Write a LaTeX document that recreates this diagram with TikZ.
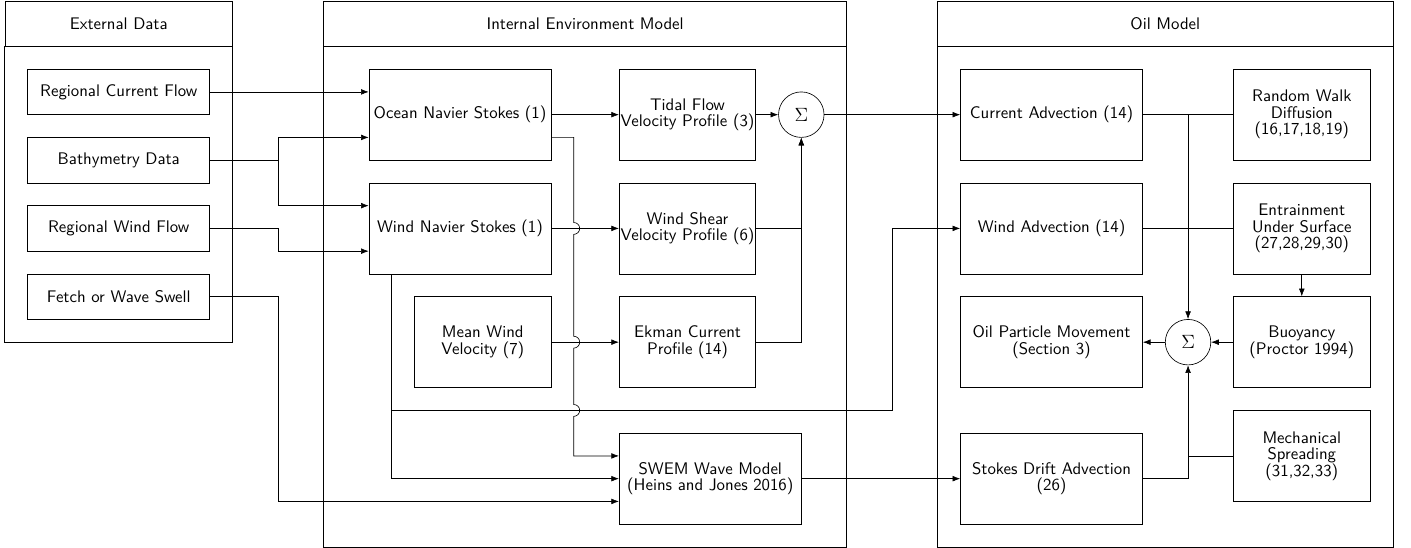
\documentclass[tikz,border=0pt]{standalone}
\usetikzlibrary{arrows.meta}
\renewcommand{\familydefault}{\sfdefault}

\begin{document}
\begin{tikzpicture}[
  >=Latex,
  font=\fontsize{10.5}{10.3}\selectfont,
  blk/.style={draw, minimum width=4cm, minimum height=2cm, align=center, inner xsep=0pt},
  sblk/.style={blk, minimum width=3cm},
  src/.style={blk, minimum height=1cm},
  hdr/.style={draw, minimum height=1cm},
  sumnode/.style={draw, circle, minimum size=1cm, inner sep=0pt, font=\large}
]
\useasboundingbox (-0.11,0.02) rectangle (30.9,-12.02);

% Frames
\node[hdr, minimum width=5cm] (exthdr) at (2.5,-0.5) {External Data};
\draw (exthdr.south west) rectangle (5,-7.5);
\node[hdr, minimum width=11.5cm] (inthdr) at (12.75,-0.5) {Internal Environment Model};
\draw (inthdr.south west) rectangle (18.5,-12);
\node[hdr, minimum width=10cm] (oilhdr) at (25.5,-0.5) {Oil Model};
\draw (oilhdr.south west) rectangle (30.5,-12);

% External data
\node[src] (rcf) at (2.5,-2) {Regional Current Flow};
\node[src] (bath) at (2.5,-3.5) {Bathymetry Data};
\node[src] (rwf) at (2.5,-5) {Regional Wind Flow};
\node[src] (fetch) at (2.5,-6.5) {Fetch or Wave Swell};

% Internal environment
\node[blk] (ons) at (10,-2.5) {Ocean Navier Stokes (1)};
\node[blk] (wns) at (10,-5) {Wind Navier Stokes (1)};
\node[sblk] (mwind) at (10.5,-7.5) {Mean Wind\\Velocity (7)};
\node[sblk] (tidal) at (15,-2.5) {Tidal Flow\\Velocity Profile (3)};
\node[sblk] (wshear) at (15,-5) {Wind Shear\\Velocity Profile (6)};
\node[sblk] (ekman) at (15,-7.5) {Ekman Current\\Profile (14)};
\node[blk] (swem) at (15.5,-10.5) {SWEM Wave Model\\(Heins and Jones 2016)};
\node[sumnode] (sum1) at (17.5,-2.5) {$\Sigma$};

% Oil model
\node[blk] (cadv) at (23,-2.5) {Current Advection (14)};
\node[blk] (wadv) at (23,-5) {Wind Advection (14)};
\node[blk] (oil) at (23,-7.5) {Oil Particle Movement\\(Section 3)};
\node[blk] (stokes) at (23,-10.5) {Stokes Drift Advection\\(26)};
\node[sblk] (rwalk) at (28.5,-2.5) {Random Walk\\Diffusion\\(16,17,18,19)};
\node[sblk] (entr) at (28.5,-5) {Entrainment\\Under Surface\\(27,28,29,30)};
\node[sblk] (buoy) at (28.5,-7.5) {Buoyancy\\(Proctor 1994)};
\node[sblk] (mech) at (28.5,-10) {Mechanical\\Spreading\\(31,32,33)};
\node[sumnode] (sum2) at (26,-7.5) {$\Sigma$};

\coordinate (bj) at (6,-3.5);
\coordinate (wbend) at (19.5,-9);

% Inputs
\draw[->] (rcf.east) -- ([yshift=5mm]ons.west);
\draw[->] (bath.east) -- (bj) |- ([yshift=-5mm]ons.west);
\draw[->] (bj) |- ([yshift=5mm]wns.west);
\draw[->] (rwf.east) -- (rwf.east -| bj) |- ([yshift=-5mm]wns.west);
\draw[->] (fetch.east) -- (fetch.east -| bj) |- ([yshift=-5mm]swem.west);

% Internal links
\draw[->] (ons.east) -- (tidal.west);
\draw[->] (wns.east) -- (wshear.west);
\draw[->] (mwind.east) -- (ekman.west);
\draw[->] ([yshift=-5mm]ons.east) -| (12.5,-4.87) arc (90:-90:0.13) -- (12.5,-7.37)
  arc (90:-90:0.13) -- (12.5,-8.87) arc (90:-90:0.13) |- ([yshift=5mm]swem.west);
\draw[->] ([xshift=-15mm]wns.south) |- (swem.west);
\draw[->] ([xshift=-15mm]wns.south) |- (wbend) |- (wadv.west);
\draw[->] (tidal.east) -- (sum1.west);
\draw[->] (wshear.east) -| (sum1.south);
\draw[->] (ekman.east) -| (sum1.south);

% Oil links
\draw[->] (sum1.east) -- (cadv.west);
\draw[->] (swem.east) -- (stokes.west);
\draw (cadv.east) -- (rwalk.west);
\draw (wadv.east) -- (entr.west);
\draw[->] (cadv.east -| sum2.north) -- (sum2.north);
\draw[->] (entr.south) -- (buoy.north);
\draw[->] (buoy.west) -- (sum2.east);
\draw[->] (sum2.west) -- (oil.east);
\draw[->] (stokes.east) -| (sum2.south);
\draw (mech.west) -- (mech.west -| sum2.south);
\end{tikzpicture}
\end{document}
